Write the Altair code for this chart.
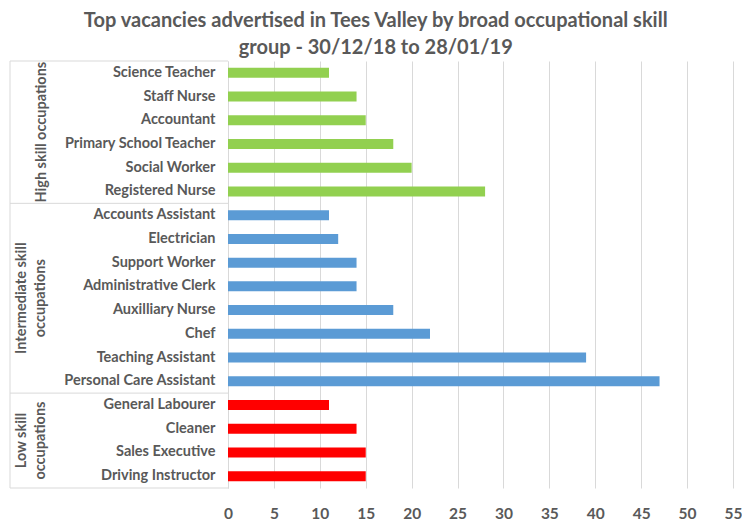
import altair as alt
import pandas as pd

high = ["Science Teacher", "Staff Nurse", "Accountant", "Primary School Teacher",
        "Social Worker", "Registered Nurse"]
high_vals = [11, 14, 15, 18, 20, 28]
inter = ["Accounts Assistant", "Electrician", "Support Worker", "Administrative Clerk",
         "Auxilliary Nurse", "Chef", "Teaching Assistant", "Personal Care Assistant"]
inter_vals = [11, 12, 14, 14, 18, 22, 39, 47]
low = ["General Labourer", "Cleaner", "Sales Executive", "Driving Instructor"]
low_vals = [11, 14, 15, 15]
groups = ["High skill occupations", "Intermediate skill occupations", "Low skill occupations"]
group_text = ["High skill occupations", "Intermediate skill\noccupations", "Low skill\noccupations"]
group_mid = ["Accountant", "Administrative Clerk", "Cleaner"]
colors = ["#92D050", "#5B9BD5", "#FF0000"]
x_ticks = [0, 5, 10, 15, 20, 25, 30, 35, 40, 45, 50, 55]

order = high + inter + low
rows = []
for g, labs, vals in zip(groups, [high, inter, low], [high_vals, inter_vals, low_vals]):
    for l, v in zip(labs, vals):
        rows.append({"label": l, "value": v, "group": g})
df = pd.DataFrame(rows)

sep_top = pd.DataFrame({"label": [high[0], inter[0], low[0]]})
sep_bot = pd.DataFrame({"label": [low[-1]]})
gdf = pd.DataFrame({"group": groups, "text": group_text, "label": group_mid,
                    "lines": [1, 2, 2]})

FONT = "Lato"
GREY = "#595959"
W, H = 505, 427

yscale = alt.Scale(domain=order, paddingInner=0, paddingOuter=0)

bars = alt.Chart(df).mark_bar(size=10).encode(
    y=alt.Y("label:N", sort=order, scale=yscale, title=None,
            axis=alt.Axis(ticks=False, domainColor="#D9D9D9", labelPadding=13,
                          labelFont=FONT, labelFontSize=14.5, labelFontWeight="bold",
                          labelColor=GREY, labelLimit=300)),
    x=alt.X("value:Q", scale=alt.Scale(domain=[0, 55], nice=False), title=None,
            axis=alt.Axis(values=x_ticks, domain=False, ticks=False, grid=True,
                          gridColor="#D9D9D9", labelPadding=18, labelFont=FONT,
                          labelFontSize=15.5, labelFontWeight="bold", labelColor=GREY,
                          labelFlush=False)),
    color=alt.Color("group:N", scale=alt.Scale(domain=groups, range=colors), legend=None),
)

rule_top = alt.Chart(sep_top).mark_rule(color="#D9D9D9", strokeWidth=1).encode(
    y=alt.Y("label:N", sort=order, scale=yscale, bandPosition=0),
    x=alt.value(-218), x2=alt.value(0),
)
rule_bot = alt.Chart(sep_bot).mark_rule(color="#D9D9D9", strokeWidth=1).encode(
    y=alt.Y("label:N", sort=order, scale=yscale, bandPosition=1),
    x=alt.value(-218), x2=alt.value(0),
)
rule_left = alt.Chart(sep_bot).mark_rule(color="#D9D9D9", strokeWidth=1).encode(
    x=alt.value(-218), y=alt.value(0), y2=alt.value(H),
)

gtext1 = alt.Chart(gdf).transform_filter("datum.lines == 1").mark_text(
    angle=270, align="center", baseline="middle", font=FONT, fontSize=14.5,
    fontWeight="bold", color=GREY, lineBreak="\n", lineHeight=20,
).encode(
    y=alt.Y("label:N", sort=order, scale=yscale, bandPosition=1),
    x=alt.value(-186), text="text:N",
)
gtext2 = alt.Chart(gdf).transform_filter("datum.lines == 2").mark_text(
    angle=270, align="center", baseline="middle", font=FONT, fontSize=14.5,
    fontWeight="bold", color=GREY, lineBreak="\n", lineHeight=19,
).encode(
    y=alt.Y("label:N", sort=order, scale=yscale, bandPosition=1),
    x=alt.value(-206), text="text:N",
)

chart = alt.layer(bars, rule_top, rule_bot, rule_left, gtext1, gtext2).properties(
    width=W, height=H,
    title=alt.TitleParams(
        text=["Top vacancies advertised in Tees Valley by broad occupational skill",
              "group - 30/12/18 to 28/01/19"],
        anchor="middle", frame="bounds", font=FONT, fontSize=20, fontWeight="bold",
        color=GREY, lineHeight=27, offset=3),
    autosize=alt.AutoSizeParams(type="none"),
    padding={"left": 220, "top": 53, "right": 9, "bottom": 33},
).configure_view(stroke=None)

chart.save("out.html", embed_options={"renderer": "svg", "actions": False})
